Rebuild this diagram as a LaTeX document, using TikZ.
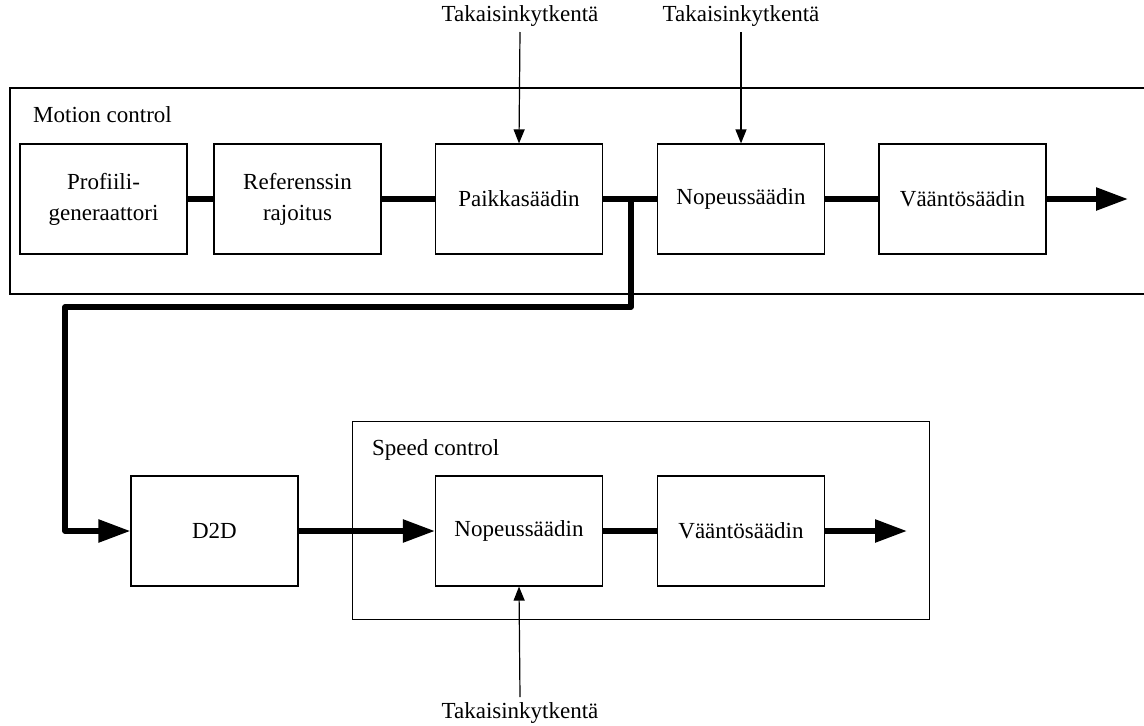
\documentclass[tikz,border=0pt]{standalone}
\usepackage{fontspec}
\setmainfont{Liberation Serif}
\usetikzlibrary{arrows.meta}
\begin{document}
\begin{tikzpicture}[x=1pt,y=-1pt,
    font=\fontsize{23}{31}\selectfont,
    thin line/.style={line width=1.2pt},
    block/.style={draw, thin line, minimum width=167pt, minimum height=110pt,
                  inner sep=0pt, align=center},
    group/.style={draw, thin line, inner sep=0pt},
    signal/.style={line width=5.5pt, line join=round},
    bigarrow/.style={signal, -{Triangle[length=32pt,width=22pt]}},
    fbarrow/.style={thin line, -{Triangle[length=14pt,width=11pt]}},
    caption/.style={inner sep=0pt, anchor=base west}]
  \useasboundingbox (0,0) rectangle (1144,726);
  \begin{scope}
    \clip (0,0) rectangle (1144,726);
    % enclosing groups
    \node[group, minimum width=1140pt, minimum height=206pt] (motion) at (580,191) {};
    \node[group, minimum width=577pt, minimum height=198pt] (speed) at (641,520.5) {};
  \end{scope}
  \node[caption] (motionlbl) at (33,122) {Motion control};
  \node[caption] (speedlbl) at (372,455) {Speed control};

  % motion control chain
  \node[block] (prof)  at (103.5,199) {Profiili-\\generaattori};
  \node[block] (ref)   at (297.5,199) {Referenssin\\rajoitus};
  \node[block] (paik)  at (519,199)   {Paikkasäädin};
  \node[block] (nop1)  at (741,199)   {Nopeussäädin};
  \node[block] (vaan1) at (962.5,199) {Vääntösäädin};
  \coordinate (out1) at (1128,199);

  % speed control chain
  \node[block] (d2d)   at (214.5,531) {D2D};
  \node[block] (nop2)  at (519,531)   {Nopeussäädin};
  \node[block] (vaan2) at (741,531)   {Vääntösäädin};
  \coordinate (out2) at (907,531);

  % feedback labels
  \node[inner sep=0pt] (fb1) at (520,16)  {Takaisinkytkentä};
  \node[inner sep=0pt] (fb2) at (741,16)  {Takaisinkytkentä};
  \node[inner sep=0pt] (fb3) at (520,713) {Takaisinkytkentä};

  % signal connections
  \draw[signal] (prof) -- (ref);
  \draw[signal] (ref) -- (paik);
  \draw[signal] (paik) -- (nop1);
  \draw[signal] (nop1) -- (vaan1);
  \draw[bigarrow] (vaan1) -- (out1);
  \coordinate (branch) at (631,199);
  \draw[bigarrow] (branch) -- (631,307) -- (65,307) -- (65,531) -- (d2d.west);
  \draw[bigarrow] (d2d) -- (nop2);
  \draw[signal] (nop2) -- (vaan2);
  \draw[bigarrow] (vaan2) -- (out2);

  % feedback arrows
  \draw[fbarrow] (520,32) -- (paik.north);
  \draw[fbarrow] (741,32) -- (nop1.north);
  \draw[fbarrow] (520,697) -- (nop2.south);
\end{tikzpicture}
\end{document}
